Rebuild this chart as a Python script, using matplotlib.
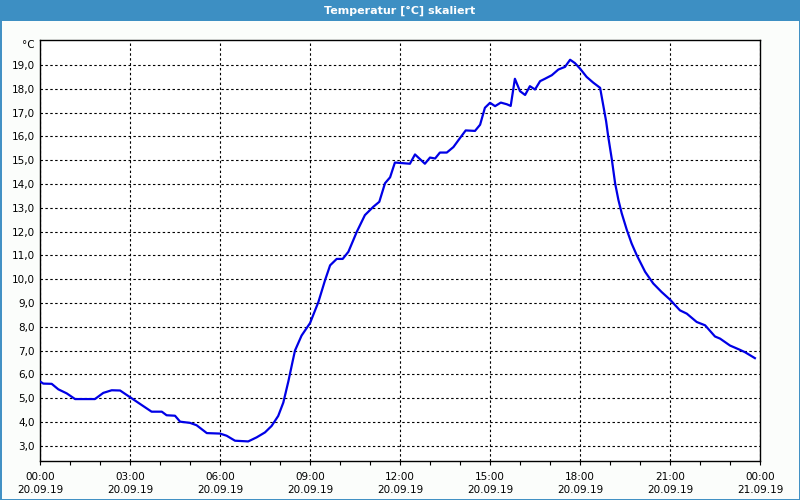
import numpy as np
import matplotlib.pyplot as plt
from matplotlib.patches import Rectangle

# Temperature readings, hours since 20.09.19 00:00
hours = [0.0, 0.11, 0.39, 0.61, 0.89, 1.17, 1.83, 2.11, 2.39, 2.67, 3.0,
         3.33, 3.72, 4.06, 4.22, 4.5, 4.67, 5.0, 5.22, 5.56, 6.0, 6.22,
         6.5, 6.94, 7.22, 7.5, 7.72, 7.94, 8.11, 8.28, 8.42, 8.5, 8.72,
         9.0, 9.28, 9.5, 9.67, 9.89, 10.09, 10.28, 10.56, 10.83, 11.11,
         11.31, 11.5, 11.67, 11.83, 12.33, 12.5, 12.67, 12.83, 13.0, 13.17,
         13.33, 13.56, 13.78, 14.0, 14.19, 14.5, 14.67, 14.83, 15.0, 15.17,
         15.36, 15.56, 15.69, 15.83, 16.0, 16.17, 16.33, 16.5, 16.67, 16.83,
         17.06, 17.28, 17.5, 17.67, 17.83, 18.0, 18.22, 18.44, 18.67, 18.78,
         18.87, 18.94, 19.06, 19.17, 19.28, 19.39, 19.56, 19.72, 19.89,
         20.17, 20.44, 20.72, 21.0, 21.33, 21.56, 21.89, 22.17, 22.5, 22.67,
         23.0, 23.33, 23.5, 23.83]
temp = [5.7, 5.61, 5.6, 5.37, 5.2, 4.96, 4.96, 5.22, 5.33, 5.32, 5.04,
        4.76, 4.43, 4.43, 4.28, 4.26, 4.01, 3.96, 3.86, 3.53, 3.51, 3.42,
        3.21, 3.18, 3.35, 3.56, 3.83, 4.25, 4.81, 5.71, 6.54, 7.0, 7.63,
        8.15, 9.04, 9.95, 10.58, 10.85, 10.85, 11.15, 11.99, 12.69, 13.04,
        13.25, 14.03, 14.28, 14.9, 14.85, 15.24, 15.04, 14.85, 15.11, 15.07,
        15.32, 15.32, 15.55, 15.93, 16.25, 16.23, 16.49, 17.2, 17.41, 17.27,
        17.42, 17.35, 17.28, 18.42, 17.9, 17.74, 18.11, 17.97, 18.32, 18.42,
        18.57, 18.81, 18.92, 19.22, 19.08, 18.85, 18.5, 18.26, 18.04, 17.27,
        16.64, 16.0, 15.04, 14.03, 13.33, 12.77, 12.07, 11.5, 11.01,
        10.31, 9.82, 9.46, 9.14, 8.69, 8.55, 8.2, 8.06, 7.59, 7.5,
        7.21, 7.03, 6.93, 6.68]

x_major = [0, 3, 6, 9, 12, 15, 18, 21, 24]
x_labels = ["00:00\n20.09.19", "03:00\n20.09.19", "06:00\n20.09.19",
            "09:00\n20.09.19", "12:00\n20.09.19", "15:00\n20.09.19",
            "18:00\n20.09.19", "21:00\n20.09.19", "00:00\n21.09.19"]
y_ticks = list(range(3, 20))
y_labels = [f"{v},0" for v in y_ticks]

plt.rcParams['font.family'] = ['DejaVu Sans']

fig = plt.figure(figsize=(8, 5), dpi=100, facecolor='#fbfdfb')

# window frame: title bar and thin blue border
fig.patches.append(Rectangle((0, 1 - 21 / 500), 1, 21 / 500, transform=fig.transFigure,
                             facecolor='#3d8fc3', edgecolor='none', zorder=0))
fig.patches.append(Rectangle((0.5 / 800, 0.5 / 500), 1 - 1 / 800, 1 - 1 / 500,
                             transform=fig.transFigure, facecolor='none',
                             edgecolor='#3d8fc3', linewidth=1.4, zorder=0))
fig.text(0.5, 1 - 10.5 / 500, "Temperatur [°C] skaliert", color='white',
         fontsize=8, fontweight='bold', ha='center', va='center')

ax = fig.add_axes([40 / 800, 39.3 / 500, 720 / 800, 420.7 / 500])
ax.set_facecolor('white')
ax.plot(hours, temp, color='#0000e6', linewidth=1.6, zorder=3)

ax.set_xlim(0, 24)
ax.set_ylim(2.37, 20.05)
ax.set_xticks(x_major)
ax.set_xticklabels(x_labels, fontsize=7.5, linespacing=1.35)
ax.set_xticks(np.arange(0, 25, 1), minor=True)
ax.set_yticks(y_ticks)
ax.set_yticklabels(y_labels, fontsize=7.5)

ax.tick_params(axis='x', which='both', direction='out', length=3, width=0.8,
               pad=5, colors='black')
ax.tick_params(axis='y', length=0, pad=4)
ax.grid(True, which='major', color='black', linestyle=(0, (2.2, 2.2)), linewidth=0.8)
for s in ax.spines.values():
    s.set_linewidth(1.0)
    s.set_color('black')

ax.text(-0.008, 20.05, "°C", transform=ax.get_yaxis_transform(), fontsize=7.5,
        ha='right', va='top')

fig.savefig('out.png', dpi=100, facecolor=fig.get_facecolor())
